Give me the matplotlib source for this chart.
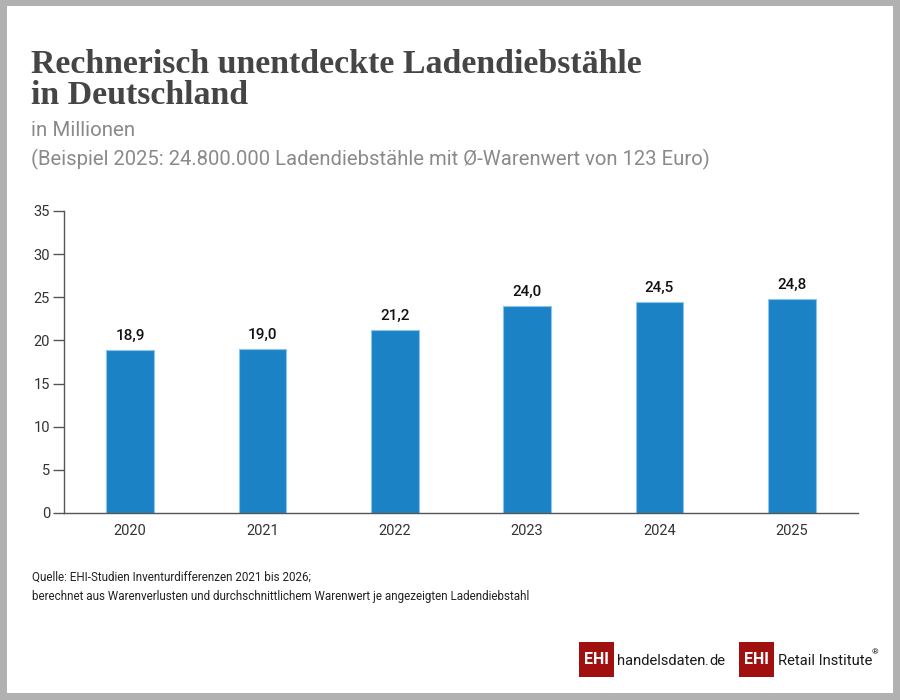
''' Rechnerisch unentdeckte Ladendiebstaehle - bar chart '''
import numpy as np
import matplotlib
matplotlib.use('Agg')
import matplotlib.pyplot as plt
from matplotlib.patches import Rectangle

# data
years = ['2020', '2021', '2022', '2023', '2024', '2025']
values = [18.9, 19.0, 21.2, 24.0, 24.5, 24.8]
y_ticks = [0, 5, 10, 15, 20, 25, 30, 35]

title_lines = ['Rechnerisch unentdeckte Ladendiebstähle', 'in Deutschland']
sub1 = 'in Millionen'
sub2 = '(Beispiel 2025: 24.800.000 Ladendiebstähle mit Ø-Warenwert von 123 Euro)'
src_lines = ['Quelle: EHI-Studien Inventurdifferenzen 2021 bis 2026;',
             'berechnet aus Warenverlusten und durchschnittlichem Warenwert je angezeigten Ladendiebstahl']

# styles
W, H = 900, 700
sans = ['Roboto', 'DejaVu Sans']
bar_col, bar_edge = '#1b82c6', '#8cc4ec'
ehi_red = '#a0100f'
txt_dark = '#333333'

plt.rcParams['font.family'] = sans

fig = plt.figure(figsize=(9, 7), dpi=100)
fig.patch.set_facecolor('#b1b1b1')

def fx(px):
    return px / W

def fy(py):
    return 1 - py / H

# white card behind everything
fig.patches.append(Rectangle((fx(7), fy(693)), fx(886), 687 / H, transform=fig.transFigure,
                             facecolor='white', edgecolor='none', zorder=-10))

# titles
for ln, base in zip(title_lines, [73, 104]):
    fig.text(fx(31), fy(base), ln, fontsize=24.4, fontweight='bold', family='Liberation Serif',
             color='#454545', va='baseline', ha='left')
fig.text(fx(31), fy(136), sub1, fontsize=14.8, color='#8a8a8a', va='baseline')
fig.text(fx(31), fy(165), sub2, fontsize=14.6, color='#8a8a8a', va='baseline')

# axes
ax = fig.add_axes([fx(64), fy(513), fx(858 - 64), (513 - 211) / H])
ax.patch.set_alpha(0)
x = np.arange(len(years))
ax.bar(x, values, width=0.36, color=bar_col, edgecolor=bar_edge, linewidth=0.8, zorder=2)
for xi, v in zip(x, values):
    ax.annotate(f'{v:.1f}'.replace('.', ','), (xi, v), xytext=(0, 5), textcoords='offset points',
                ha='center', va='bottom', fontsize=11, fontweight='medium', color='#111111')

ax.set_xlim(-0.5, len(years) - 0.5)
ax.set_ylim(0, 35)
ax.set_yticks(y_ticks)
ax.set_xticks(x)
ax.set_xticklabels(years)
for s in ['top', 'right']:
    ax.spines[s].set_visible(False)
for s in ['left', 'bottom']:
    ax.spines[s].set_color('#555555')
    ax.spines[s].set_linewidth(1)
ax.tick_params(axis='y', length=8, width=1, color='#555555', pad=2, labelsize=10.5,
               labelcolor=txt_dark)
ax.tick_params(axis='x', length=0, pad=8, labelsize=10.5, labelcolor=txt_dark)

# source
fig.text(fx(32), fy(581), src_lines[0], fontsize=8.35, color='#222222', va='baseline')
fig.text(fx(32), fy(600), src_lines[1], fontsize=8.35, color='#222222', va='baseline')

# logos
def ehi_box(x0):
    fig.patches.append(Rectangle((fx(x0), fy(677)), fx(35), 35 / H, transform=fig.transFigure,
                                 facecolor=ehi_red, edgecolor='none'))
    fig.text(fx(x0 + 17.5), fy(660), 'EHI', fontsize=11.5, fontweight='bold', color='white',
             ha='center', va='center')

ehi_box(579)
ehi_box(739)

renderer = fig.canvas.get_renderer()
logo_font = dict(fontsize=10.6, color='#1a1a1a', va='baseline')
xpos = 617
for part, col in [('handelsdaten', '#1a1a1a'), ('.', ehi_red), ('de', '#1a1a1a')]:
    t = fig.text(fx(xpos), fy(665), part, **{**logo_font, 'color': col})
    xpos += t.get_window_extent(renderer).width
t = fig.text(fx(778), fy(665), 'Retail Institute', **logo_font)
xr = 778 + t.get_window_extent(renderer).width
fig.text(fx(xr - 1), fy(654), '®', fontsize=6, color='#1a1a1a', va='baseline')

fig.savefig('out.png', dpi=100, facecolor=fig.get_facecolor())
